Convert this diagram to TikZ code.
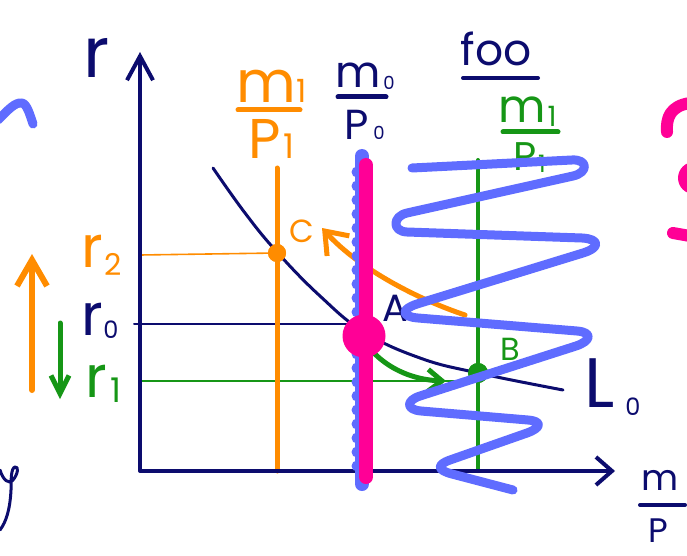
\documentclass[tikz,border=0pt]{standalone}
\usepackage{fontspec}
\setmainfont{Poppins}
\usetikzlibrary{arrows.meta,calc}
\definecolor{navy}{RGB}{12,12,110}
\definecolor{org}{RGB}{255,140,0}
\definecolor{grn}{RGB}{22,150,22}
\definecolor{pnk}{RGB}{255,0,150}
\definecolor{blu}{RGB}{95,108,255}
\newcommand\fsz[1]{\fontsize{#1}{#1}\selectfont}
\begin{document}
\begin{tikzpicture}[x=1pt,y=-1pt,line cap=round,line join=round,
  lab/.style={inner sep=0pt,anchor=base},
  axis/.style={navy,line width=4pt},
  guide/.style={line width=1.6pt},
  spring/.style={blu,line width=9pt},
  fracbar/.style={line width=5pt},
  dotn/.style={circle,inner sep=0pt}]
\useasboundingbox (0,0) rectangle (687,556);

% guide lines
\node[dotn,fill=org,minimum size=18pt] (C) at (277,253) {};
\node[dotn,fill=grn,minimum size=20pt] (B) at (478,373) {};
\coordinate (A0) at (365,324);
\coordinate (r2s) at (140,255);
\coordinate (r0s) at (134,324);
\coordinate (r1s) at (140,381);
\coordinate (r1e) at (478,381);
\draw[guide,org] (r2s) -- (C.center);
\draw[guide,navy,line width=2pt] (r0s) -- (A0);
\draw[guide,grn] (r1s) -- (r1e);

% vertical lines
\coordinate (ot) at (277,168);
\coordinate (ob) at (277,471);
\coordinate (gtop) at (478,160);
\coordinate (gbot) at (478,471);
\draw[org,line width=5pt] (ot) -- (ob);
\draw[grn,line width=4pt] (gtop) -- (gbot);

% axes
\coordinate (Ytop) at (140,52);
\coordinate (O) at (140,471);
\coordinate (Xend) at (615,471);
\draw[axis,{Straight Barb[length=24pt,width=26pt]}-{Straight Barb[length=16pt,width=28pt]}] (Ytop) -- (O) -- (Xend);

% L0 curve
\draw[navy,line width=3pt] plot[smooth,tension=0.7] coordinates {(213,168) (245,213) (277,252) (320,296) (364,332) (420,358) (478,373) (563,390)};
\node[dotn,fill=org,minimum size=18pt] at (C) {};
\node[dotn,fill=grn,minimum size=20pt] at (B) {};

% curved arrows
\coordinate (oat) at (465,315);
\coordinate (oah) at (322,228);
\draw[org,line width=5pt,-{Straight Barb[length=20pt,width=30pt]}] (oat) .. controls (420,300) and (360,270) .. (oah);
\coordinate (gat) at (373,352);
\coordinate (gah) at (446,381);
\draw[grn,line width=5pt,-{Straight Barb[length=14pt,width=22pt]}] (gat) .. controls (390,370) and (415,380) .. (gah);

% blue + pink vertical
\coordinate (bt) at (362,156);
\coordinate (bb) at (362,484);
\draw[blu,line width=14pt] (bt) -- (bb);
\foreach \yy in {172,186,...,470} \fill[blu] (357,\yy) circle (5.5);
\coordinate (pt) at (366,165);
\coordinate (pb) at (366,477);
\draw[pnk,line width=14pt] (pt) -- (pb);
\node[dotn,fill=pnk,minimum size=43pt] (A) at (364,336) {};

% axis labels
\node[lab,navy] (rlab) at (97,78) {\fsz{70}r};
\node[lab,org] (r2) at (92,267) {\fsz{58}r};
\node[lab,org] (r2s) at (113,275) {\fsz{30}2};
\node[lab,navy] (r0) at (92,335) {\fsz{58}r};
\node[lab,navy] (r0s) at (111,338) {\fsz{24}0};
\node[lab,grn] (r1) at (96,397) {\fsz{58}r};
\node[lab,grn] (r1s) at (116,402) {\fsz{34}1};

% left arrows
\coordinate (oub) at (32,390);
\coordinate (out) at (32,254);
\draw[org,line width=6pt,-{Straight Barb[length=26pt,width=30pt]}] (oub) -- (out);
\coordinate (gdt) at (60,323);
\coordinate (gdb) at (60,399);
\draw[grn,line width=5pt,-{Straight Barb[length=18pt,width=18pt]}] (gdt) -- (gdb);

% orange fraction m1/P1
\node[lab,org] (om) at (266,103) {\fsz{58}m};
\node[lab,org] (om1) at (302,103) {\fsz{32}1};
\coordinate (ofl) at (238,110); \coordinate (ofr) at (300,110);
\draw[org,fracbar] (ofl) -- (ofr);
\node[lab,org] (oP) at (265,158) {\fsz{56}P};
\node[lab,org] (oP1) at (289,158) {\fsz{34}1};

% navy fraction m0/P0
\node[lab,navy] (nm) at (358,88) {\fsz{44}m};
\node[lab,navy] (nm0) at (389,90) {\fsz{18}0};
\coordinate (nfl) at (338,97); \coordinate (nfr) at (386,97);
\draw[navy,fracbar] (nfl) -- (nfr);
\node[lab,navy] (nP) at (357,140) {\fsz{42}P};
\node[lab,navy] (nP0) at (379,140) {\fsz{18}0};

% green fraction m1/P1
\node[lab,grn] (gm) at (522,123) {\fsz{46}m};
\node[lab,grn] (gm1) at (552,127) {\fsz{28}1};
\coordinate (gfl) at (503,132); \coordinate (gfr) at (558,132);
\draw[grn,fracbar] (gfl) -- (gfr);
\node[lab,grn] (gP) at (525,171) {\fsz{40}P};
\node[lab,grn] (gP1) at (542,172) {\fsz{24}1};

% foo label
\node[lab,navy] (foo) at (496,66) {\fsz{44}foo};
\coordinate (ful) at (463,78); \coordinate (fur) at (538,78);
\draw[navy,line width=4pt] (ful) -- (fur);

% point labels
\node[lab,navy] (Alab) at (395,321) {\fsz{38}A};
\node[lab,org] (Clab) at (302,242) {\fsz{32}C};
\node[lab,grn] (Blab) at (510,360) {\fsz{32}B};
\node[lab,navy] (L0) at (600,407) {\fsz{70}L};
\node[lab,navy] (L0s) at (633,415) {\fsz{24}0};

% x axis label
\node[lab,navy] (xm) at (660,490) {\fsz{36}m};
\coordinate (xfl) at (640,505); \coordinate (xfr) at (685,505);
\draw[navy,line width=4pt] (xfl) -- (xfr);
\node[lab,navy] (xP) at (658,542) {\fsz{34}P};

% blue spring scribble
\draw[spring] (412,168) -- (572,160)
  .. controls (588,159) and (588.6,172.5) .. (573,176)
  -- (407,213)
  .. controls (392.4,216.3) and (392,231.4) .. (407,232)
  -- (582,238)
  .. controls (600,239) and (600.2,247.7) .. (583,253)
  -- (417,304)
  .. controls (400.7,309.3) and (401,316.6) .. (418,318)
  -- (577,331)
  .. controls (593,332.3) and (591,341) .. (576,346)
  -- (420,396)
  .. controls (405.7,400.6) and (406,409.7) .. (421,411)
  -- (528,420)
  .. controls (543,421.3) and (541,428) .. (527,433)
  -- (450,460)
  .. controls (436,465) and (437.5,470.2) .. (452,474)
  -- (513,490);

% edge scribbles
\draw[blu,line width=9pt] (-2,120) .. controls (8,110) and (15,102) .. (22,103) .. controls (27,104) and (30,115) .. (33,124);
\draw[navy,line width=3pt] (0,470) .. controls (3,480) and (9,485) .. (13,480) .. controls (18,474) and (19,466) .. (15,467) .. controls (11,468) and (11,480) .. (11,490) .. controls (10,510) and (6,522) .. (0,530);
\draw[pnk,line width=12pt] (667,132) .. controls (666,118) and (670,106) .. (690,103);
\fill[pnk] (694,178) circle (16);
\draw[pnk,line width=12pt] (673,233) -- (690,236);
\end{tikzpicture}
\end{document}
